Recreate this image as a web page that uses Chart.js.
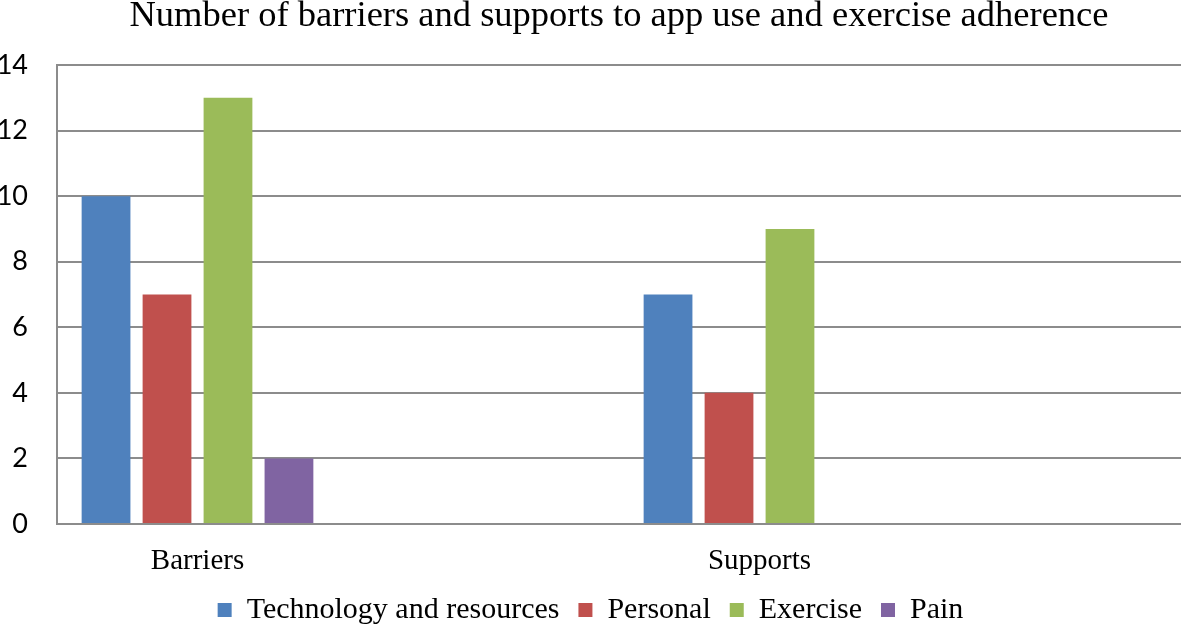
<!DOCTYPE html>
<html>
<head>
<meta charset="utf-8">
<script src="https://cdn.jsdelivr.net/npm/chart.js@4.4.0/dist/chart.umd.min.js"></script>
<style>
  html, body { margin: 0; padding: 0; background: #fff; }
  #wrap { width: 1181px; height: 626px; }
</style>
</head>
<body>
<div id="wrap"><canvas id="barriersChart" width="1181" height="626"></canvas></div>
<script>
// =================== data =======================
const categories = ['Barriers', 'Supports'];
const technology = [10, 7];
const personal = [7, 4];
const exercise = [13, 9];
const pain = [2, 0];
const yTicks = [0, 2, 4, 6, 8, 10, 12, 14];

// each group sits in the left half of its category, so pad with an empty slot
function padLabels(arr) {
    let a = [];
    arr.forEach(v => { a.push(v); a.push(''); });
    return a;
}
function padValues(arr) {
    let a = [];
    arr.forEach(v => { a.push(v); a.push(null); });
    return a;
}
// =================== END DATA ===================

const serif = "'Liberation Serif', 'Times New Roman', serif";
const gridColor = '#8c8c8c';

function barriersChart() {
    const ctx = document.getElementById('barriersChart');
    const myChart = new Chart(ctx, {
        type: 'bar',
        data: {
            labels: padLabels(categories),
            datasets: [
                { label: 'Technology and resources', data: padValues(technology), backgroundColor: '#4F81BD' },
                { label: 'Personal', data: padValues(personal), backgroundColor: '#C0504D' },
                { label: 'Exercise', data: padValues(exercise), backgroundColor: '#9BBB59' },
                { label: 'Pain', data: padValues(pain), backgroundColor: '#8064A2' }
            ]
        },
        options: {
            responsive: false,
            animation: false,
            categoryPercentage: 0.868,
            barPercentage: 0.8,
            layout: { padding: { left: 0, right: 0, top: 0, bottom: -9 } },
            plugins: {
                title: {
                    display: true,
                    fullSize: false,
                    text: 'Number of barriers and supports to app use and exercise adherence',
                    color: '#000',
                    font: { family: serif, size: 36.5, weight: 'normal', lineHeight: 1 },
                    padding: { top: -2, bottom: 30.5 }
                },
                legend: {
                    position: 'bottom',
                    labels: {
                        color: '#000',
                        font: { family: serif, size: 30 },
                        boxWidth: 14,
                        boxHeight: 14,
                        padding: 19
                    }
                },
                tooltip: { enabled: false }
            },
            scales: {
                x: {
                    grid: { display: false, drawTicks: false },
                    border: { display: true, color: gridColor, width: 2 },
                    afterFit: function(scale) {
                        scale.height = 52;
                    },
                    ticks: {
                        color: '#000',
                        font: { family: serif, size: 29 },
                        padding: 20,
                        maxRotation: 0,
                        autoSkip: false
                    }
                },
                y: {
                    min: 0,
                    max: 14,
                    afterBuildTicks: function(scale) {
                        scale.ticks = yTicks.map(v => ({ value: v }));
                    },
                    afterFit: function(scale) {
                        scale.width = 57;
                    },
                    grid: { color: gridColor, lineWidth: 2, drawTicks: false },
                    border: { display: true, color: gridColor, width: 2 },
                    ticks: {
                        color: '#000',
                        font: { family: "Lato, 'Open Sans', sans-serif", size: 27 },
                        padding: 29
                    }
                }
            }
        }
    });
    return myChart;
}

barriersChart();
</script>
</body>
</html>
